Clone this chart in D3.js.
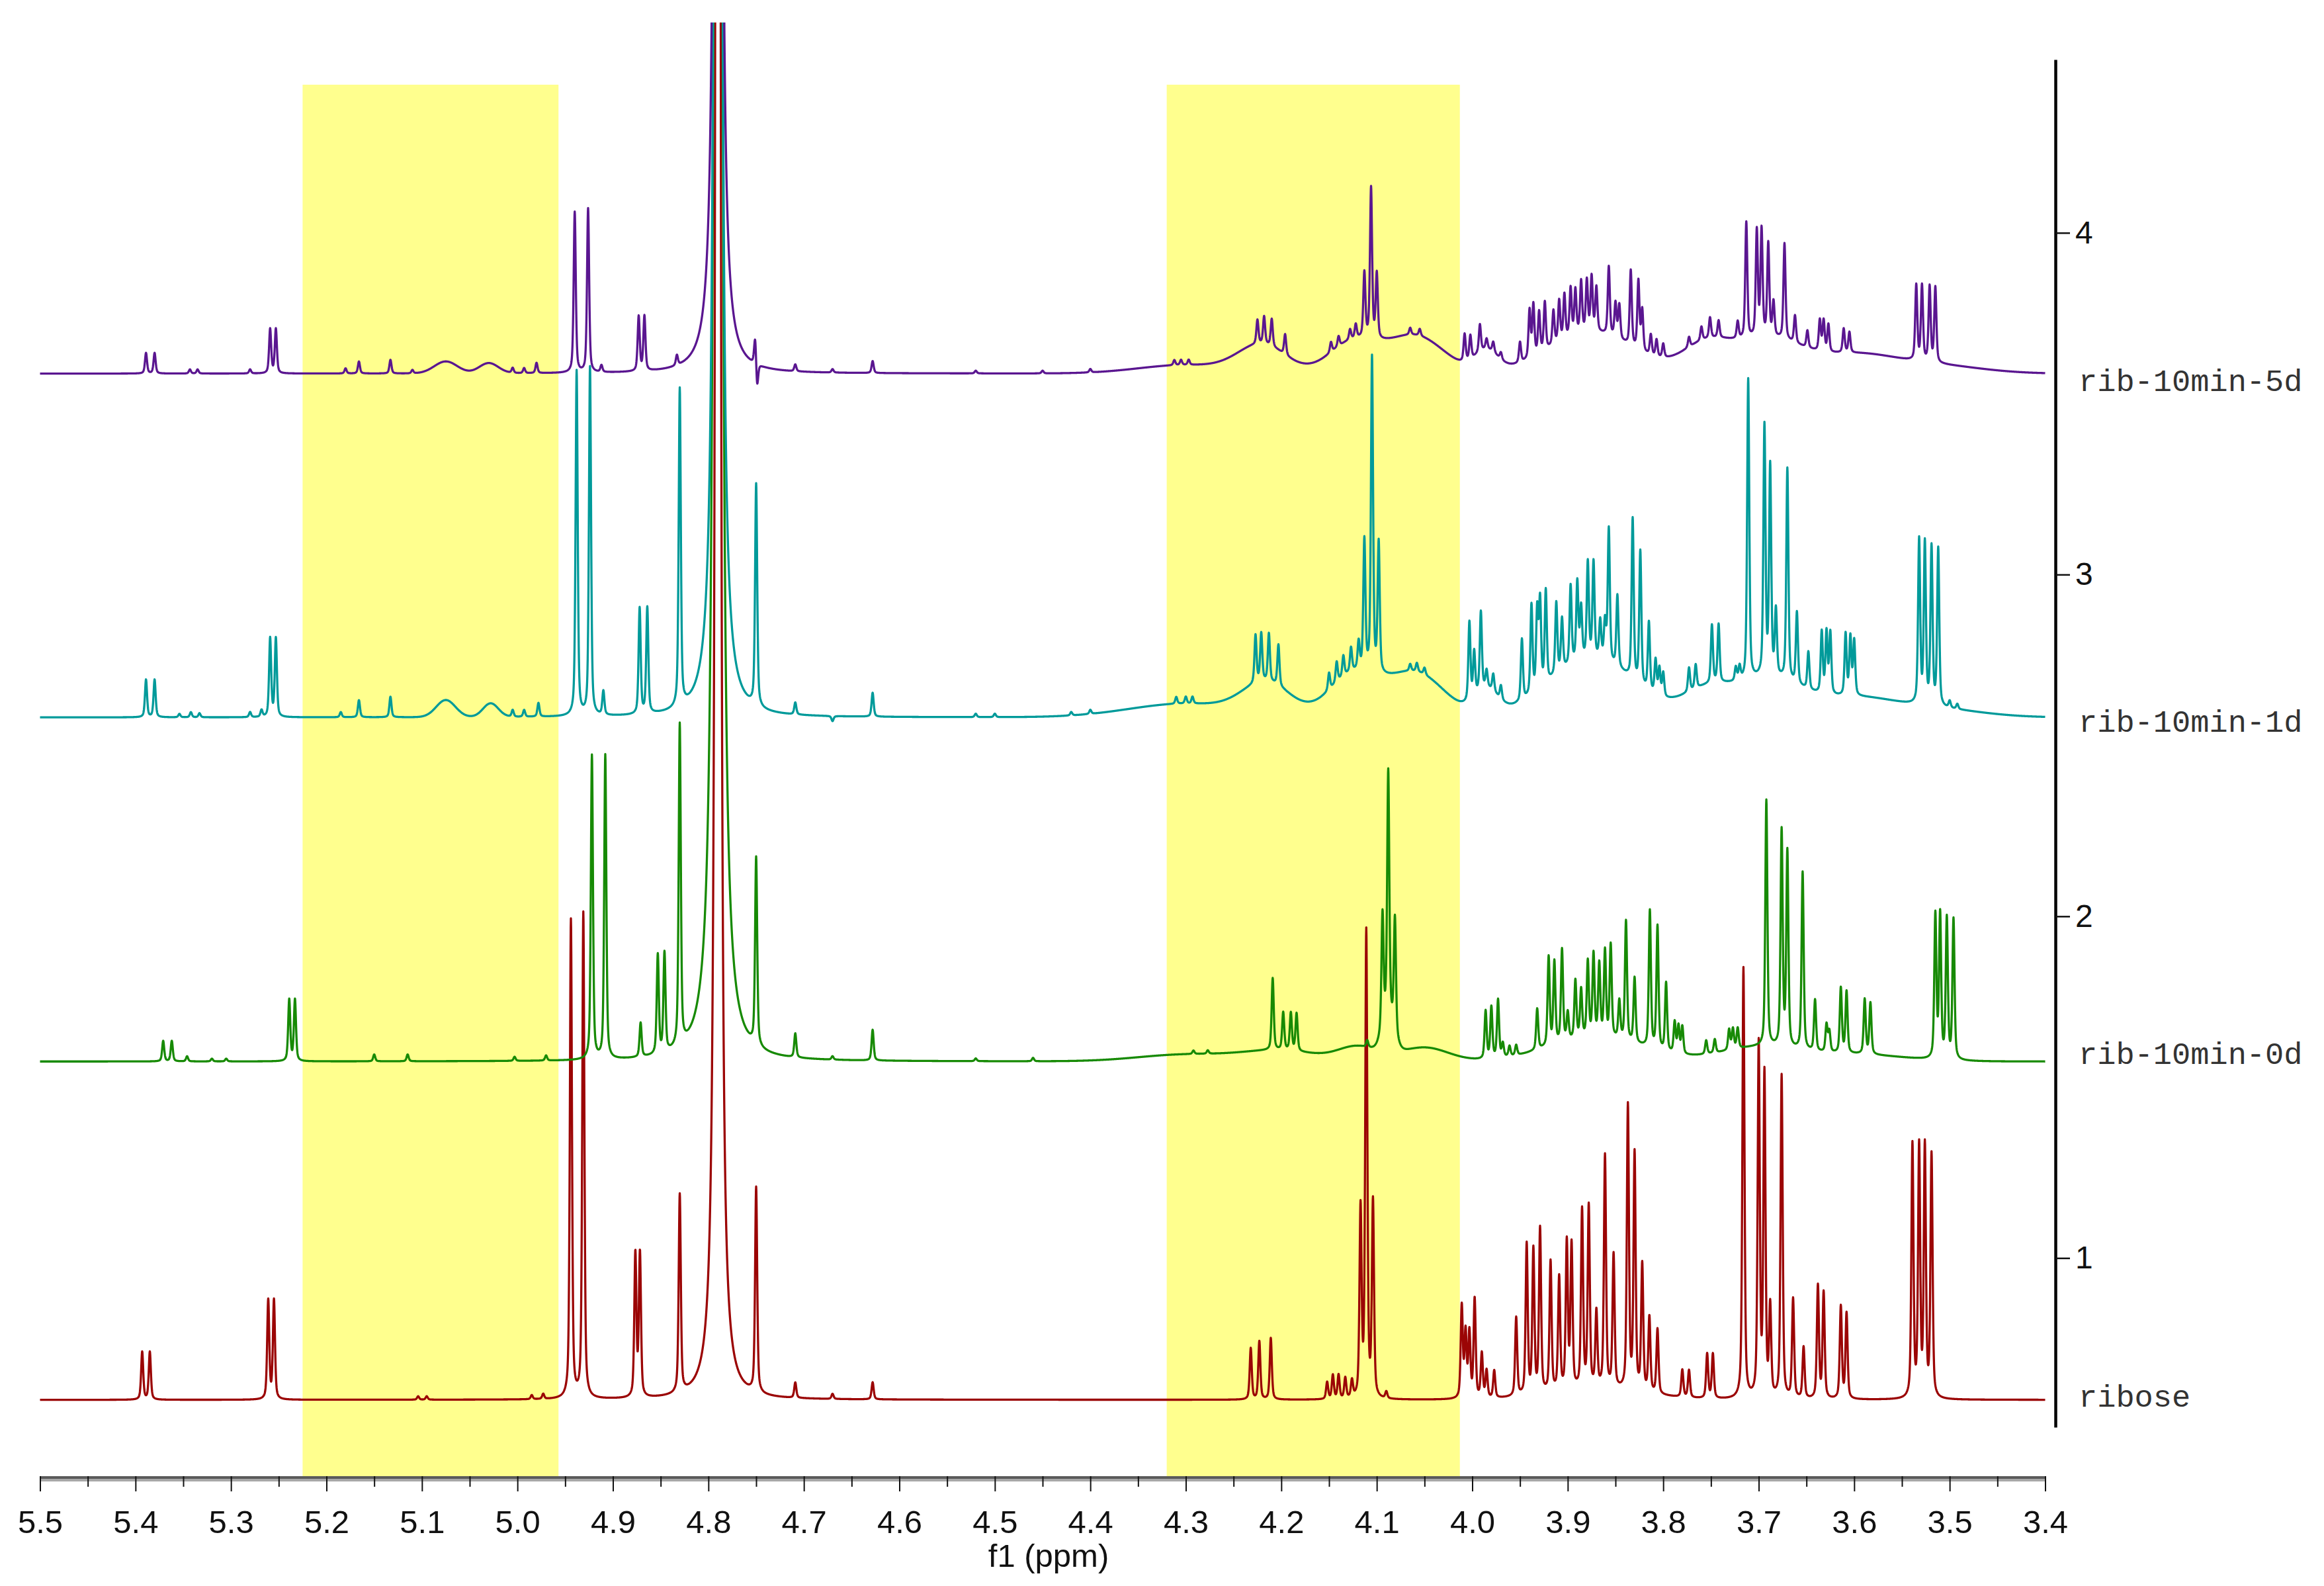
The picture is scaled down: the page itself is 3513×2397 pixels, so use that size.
<!DOCTYPE html>
<html>
<head>
<meta charset="utf-8">
<script src="https://cdn.jsdelivr.net/npm/d3@7"></script>
<style>
body { margin: 0; background: #fff; }
</style>
</head>
<body>
<div id="chart"></div>
<script>
const W = 3513
const H = 2397

// series, bottom to top
const seriesNames = ["ribose", "rib-10min-0d", "rib-10min-1d", "rib-10min-5d"]
const seriesColors = ["#9b0505", "#178a05", "#009a9a", "#5a1690"]
const offsets = [0.585, 1.575, 2.582, 3.588]
const labelY = [0.565, 1.568, 2.54, 3.537]

const xTickLabels = ["5.5", "5.4", "5.3", "5.2", "5.1", "5.0", "4.9", "4.8", "4.7", "4.6", "4.5", "4.4", "4.3", "4.2", "4.1", "4.0", "3.9", "3.8", "3.7", "3.6", "3.5", "3.4"]
const yTickLabels = [1, 2, 3, 4]
const highlights = [[5.225, 4.957], [4.32, 4.013]]

// water peak: [ppm, height, hwhm]
const water = [[4.790, 40, 0.00098], [4.790, 40, 0.00142], [4.790, 40, 0.00119], [4.790, 40, 0.00108]]

// peaks: [ppm, height]
const ribosePeaks = [
  [5.393, 0.14], [5.385, 0.14], [5.261, 0.29], [5.255, 0.29],
  [5.104, 0.01], [5.095, 0.01], [4.985, 0.012], [4.973, 0.015],
  [4.944, 1.40], [4.931, 1.42], [4.8765, 0.42], [4.8717, 0.42], [4.830, 0.58],
  [4.750, 0.60], [4.709, 0.045], [4.670, 0.015], [4.628, 0.05],
  [4.232, 0.15], [4.223, 0.17], [4.211, 0.18],
  [4.152, 0.05], [4.146, 0.07], [4.140, 0.07], [4.133, 0.06], [4.126, 0.05],
  [4.117, 0.55], [4.111, 1.36], [4.104, 0.57], [4.090, 0.02],
  [4.011, 0.27], [4.007, 0.19], [4.003, 0.19], [3.9975, 0.29], [3.990, 0.13], [3.985, 0.08], [3.977, 0.08],
  [3.954, 0.23], [3.943, 0.44], [3.936, 0.42], [3.929, 0.48],
  [3.918, 0.38], [3.909, 0.33], [3.901, 0.43], [3.896, 0.42],
  [3.885, 0.52], [3.878, 0.53], [3.870, 0.22], [3.861, 0.68], [3.852, 0.39],
  [3.837, 0.83], [3.830, 0.69], [3.822, 0.37], [3.8145, 0.22], [3.806, 0.19],
  [3.780, 0.08], [3.773, 0.08], [3.754, 0.13], [3.748, 0.13],
  [3.716, 1.26], [3.700, 1.03], [3.694, 0.94], [3.688, 0.26],
  [3.676, 0.945], [3.664, 0.29], [3.653, 0.15], [3.638, 0.33], [3.632, 0.31],
  [3.614, 0.27], [3.608, 0.25],
  [3.539, 0.74], [3.532, 0.73], [3.526, 0.73], [3.519, 0.71]
]
const greenPeaks = [
  [5.371, 0.06], [5.362, 0.06], [5.346, 0.015], [5.32, 0.008], [5.305, 0.008],
  [5.239, 0.18], [5.233, 0.18], [5.15, 0.02], [5.115, 0.02], [5.003, 0.012], [4.97, 0.015],
  [4.922, 0.89], [4.908, 0.89], [4.871, 0.10], [4.853, 0.29], [4.846, 0.29], [4.830, 0.94],
  [4.750, 0.55], [4.709, 0.07], [4.670, 0.01], [4.628, 0.09],
  [4.52, 0.008], [4.46, 0.01], [4.292, 0.01], [4.277, 0.01],
  [4.209, 0.21], [4.198, 0.11], [4.190, 0.11], [4.184, 0.11], [4.11, 0.02],
  [4.094, 0.34], [4.088, 0.72], [4.081, 0.34],
  [3.986, 0.14], [3.980, 0.15], [3.973, 0.17], [3.968, 0.04], [3.961, 0.03], [3.954, 0.03],
  [3.932, 0.12], [3.920, 0.26], [3.914, 0.24], [3.906, 0.27],
  [3.900, 0.08], [3.892, 0.17], [3.886, 0.14], [3.879, 0.22], [3.873, 0.24], [3.867, 0.21], [3.861, 0.25], [3.855, 0.27],
  [3.846, 0.11], [3.839, 0.35], [3.830, 0.19],
  [3.814, 0.40], [3.806, 0.36], [3.797, 0.20], [3.788, 0.09], [3.784, 0.08], [3.780, 0.08],
  [3.755, 0.04], [3.746, 0.04], [3.731, 0.06], [3.727, 0.06], [3.722, 0.06],
  [3.692, 0.72], [3.676, 0.63], [3.670, 0.57], [3.654, 0.52],
  [3.641, 0.15], [3.629, 0.08], [3.626, 0.06], [3.614, 0.19], [3.608, 0.18],
  [3.589, 0.16], [3.583, 0.15],
  [3.515, 0.42], [3.510, 0.42], [3.503, 0.41], [3.496, 0.41]
]
const tealPeaks = [
  [5.389, 0.11], [5.380, 0.11], [5.354, 0.01], [5.342, 0.015], [5.333, 0.012],
  [5.28, 0.015], [5.268, 0.02], [5.259, 0.23], [5.253, 0.23],
  [5.185, 0.015], [5.166, 0.05], [5.133, 0.06], [5.005, 0.02], [4.993, 0.02], [4.978, 0.04],
  [4.938, 1.01], [4.924, 1.02], [4.910, 0.07], [4.872, 0.31], [4.864, 0.31], [4.830, 0.93],
  [4.750, 0.65], [4.709, 0.035], [4.670, -0.015], [4.628, 0.07],
  [4.52, 0.01], [4.50, 0.01], [4.42, 0.01], [4.40, 0.012], [4.31, 0.02], [4.30, 0.02], [4.293, 0.02],
  [4.227, 0.14], [4.221, 0.14], [4.213, 0.14], [4.203, 0.12],
  [4.150, 0.05], [4.142, 0.06], [4.135, 0.06], [4.127, 0.07], [4.119, 0.08],
  [4.113, 0.38], [4.105, 0.92], [4.098, 0.38], [4.065, 0.02], [4.058, 0.025], [4.050, 0.02],
  [4.003, 0.23], [3.998, 0.13], [3.991, 0.23], [3.985, 0.05], [3.978, 0.05], [3.970, 0.04],
  [3.948, 0.18], [3.938, 0.26], [3.932, 0.23], [3.929, 0.25], [3.923, 0.27],
  [3.912, 0.21], [3.906, 0.15], [3.897, 0.23], [3.890, 0.23], [3.886, 0.15], [3.879, 0.28], [3.873, 0.28], [3.866, 0.11], [3.861, 0.11],
  [3.857, 0.39], [3.848, 0.21], [3.832, 0.47], [3.824, 0.39], [3.815, 0.20], [3.808, 0.10], [3.804, 0.08], [3.800, 0.07],
  [3.773, 0.07], [3.766, 0.07], [3.749, 0.17], [3.742, 0.17], [3.724, 0.04], [3.720, 0.04],
  [3.711, 0.88], [3.694, 0.73], [3.688, 0.61], [3.682, 0.19], [3.670, 0.62],
  [3.660, 0.21], [3.648, 0.11], [3.634, 0.18], [3.629, 0.18], [3.625, 0.18],
  [3.609, 0.18], [3.604, 0.17], [3.600, 0.16],
  [3.532, 0.48], [3.526, 0.47], [3.519, 0.46], [3.512, 0.46], [3.500, 0.02], [3.492, 0.015]
]
const purplePeaks = [
  [5.389, 0.06], [5.380, 0.06], [5.343, 0.012], [5.335, 0.012], [5.28, 0.012],
  [5.259, 0.13], [5.253, 0.13], [5.18, 0.015], [5.166, 0.035], [5.133, 0.04], [5.11, 0.01],
  [5.005, 0.015], [4.993, 0.015], [4.98, 0.03],
  [4.940, 0.47], [4.926, 0.48], [4.912, 0.02], [4.873, 0.16], [4.867, 0.16], [4.833, 0.03],
  [4.751, 0.085], [4.749, -0.075], [4.709, 0.02], [4.670, 0.01], [4.628, 0.035],
  [4.52, 0.008], [4.45, 0.008], [4.40, 0.01], [4.312, 0.015], [4.305, 0.015], [4.297, 0.015],
  [4.225, 0.07], [4.218, 0.08], [4.210, 0.08], [4.196, 0.06],
  [4.148, 0.03], [4.140, 0.03], [4.128, 0.03], [4.122, 0.04],
  [4.113, 0.19], [4.106, 0.44], [4.100, 0.19], [4.065, 0.02], [4.055, 0.02],
  [4.008, 0.08], [4.002, 0.07], [3.992, 0.08], [3.985, 0.03], [3.978, 0.03], [3.970, 0.02],
  [3.950, 0.06], [3.940, 0.14], [3.936, 0.15], [3.930, 0.12], [3.924, 0.14],
  [3.915, 0.10], [3.909, 0.12], [3.9035, 0.13], [3.897, 0.14], [3.892, 0.13], [3.886, 0.15], [3.880, 0.15], [3.875, 0.16], [3.870, 0.13],
  [3.857, 0.20], [3.850, 0.10], [3.846, 0.10], [3.834, 0.22], [3.826, 0.20], [3.822, 0.12],
  [3.813, 0.06], [3.807, 0.05], [3.800, 0.04],
  [3.773, 0.03], [3.760, 0.04], [3.751, 0.06], [3.742, 0.05],
  [3.722, 0.05], [3.713, 0.34], [3.702, 0.31], [3.697, 0.31], [3.690, 0.27], [3.6845, 0.10],
  [3.673, 0.28], [3.662, 0.08], [3.649, 0.05], [3.636, 0.09], [3.632, 0.09], [3.627, 0.08],
  [3.611, 0.07], [3.605, 0.06],
  [3.535, 0.22], [3.529, 0.22], [3.521, 0.22], [3.515, 0.22]
]

// broad humps under the multiplets: [ppm, height, sigma]
const riboseHumps = [[3.87, 0.03, 0.05]]
const greenHumps = [[4.3, 0.02, 0.05], [4.2, 0.03, 0.04], [4.12, 0.04, 0.02], [4.088, 0.10, 0.006], [4.05, 0.04, 0.025], [3.87, 0.07, 0.05], [3.7, 0.04, 0.04], [3.6, 0.02, 0.05]]
const tealHumps = [[5.075, 0.05, 0.01], [5.028, 0.04, 0.008], [4.3, 0.04, 0.06], [4.215, 0.09, 0.025], [4.125, 0.12, 0.025], [4.06, 0.13, 0.03], [3.985, 0.07, 0.012], [3.875, 0.17, 0.045], [3.755, 0.07, 0.025], [3.69, 0.11, 0.035], [3.6, 0.05, 0.04], [3.52, 0.025, 0.05]]
const purpleHumps = [[5.075, 0.035, 0.012], [5.03, 0.03, 0.01], [4.3, 0.025, 0.05], [4.22, 0.08, 0.025], [4.125, 0.09, 0.025], [4.06, 0.11, 0.03], [3.985, 0.06, 0.012], [3.875, 0.12, 0.045], [3.755, 0.08, 0.025], [3.69, 0.10, 0.035], [3.6, 0.05, 0.04], [3.52, 0.025, 0.05]]

const allPeaks = [ribosePeaks, greenPeaks, tealPeaks, purplePeaks]
const allHumps = [riboseHumps, greenHumps, tealHumps, purpleHumps]

const lineWidth = 0.0013 // hwhm in ppm
const step = 0.0002

const x = d3.scaleLinear().domain([5.5, 3.4]).range([60.5, 3091.5])
const y = d3.scaleLinear().domain([0.505, 4.507]).range([2157, 90])
const axisY = 2231

function intensity(ppm, i) {
  let v = offsets[i]
  allPeaks[i].forEach((p) => {
    const r = (ppm - p[0]) / lineWidth
    v += p[1] * (0.5 / (1 + r * r) + 0.5 * Math.exp(-0.6931 * r * r))
  })
  allHumps[i].forEach((hm) => {
    const r = (ppm - hm[0]) / hm[2]
    v += hm[1] * Math.exp(-0.5 * r * r)
  })
  const wr = (ppm - water[i][0]) / water[i][2]
  v += water[i][1] / (1 + wr * wr)
  return v
}

const svg = d3.select("#chart").append("svg")
  .attr("width", W)
  .attr("height", H)
  .style("background", "#fff")

svg.append("defs").append("clipPath").attr("id", "plotclip")
  .append("rect")
  .attr("x", x(5.5) - 2)
  .attr("y", 34)
  .attr("width", x(3.4) - x(5.5) + 4)
  .attr("height", axisY - 34)

svg.selectAll(".hl")
  .data(highlights)
  .enter().append("rect")
  .attr("class", "hl")
  .attr("x", (d) => x(d[0]))
  .attr("y", 128)
  .attr("width", (d) => x(d[1]) - x(d[0]))
  .attr("height", axisY - 128)
  .style("fill", "#ffff8e")

const ppmGrid = d3.range(0, Math.round((5.5 - 3.4) / step) + 1).map((k) => 5.5 - k * step)
const line = d3.line()
  .x((d) => x(d[0]))
  .y((d) => y(d[1]))

const plot = svg.append("g").attr("clip-path", "url(#plotclip)")
seriesNames.forEach((name, i) => {
  const pts = ppmGrid.map((p) => [p, intensity(p, i)])
  plot.append("path")
    .datum(pts)
    .attr("d", line)
    .style("fill", "none")
    .style("stroke", seriesColors[i])
    .style("stroke-width", 3.3)
    .style("stroke-linejoin", "round")
})

// x axis
const majorTicks = xTickLabels.map(Number)
const minorTicks = majorTicks.slice(0, -1).map((t) => +(t - 0.05).toFixed(2))

svg.append("rect")
  .attr("x", x(5.5))
  .attr("y", axisY)
  .attr("width", x(3.4) - x(5.5))
  .attr("height", 4)
  .style("fill", "#5a5a5a")
svg.append("rect")
  .attr("x", x(5.5))
  .attr("y", axisY + 4)
  .attr("width", x(3.4) - x(5.5))
  .attr("height", 4)
  .style("fill", "#a8a8a8")

const xMinor = svg.append("g")
  .attr("transform", `translate(0,${axisY})`)
  .call(d3.axisBottom(x).tickValues(minorTicks).tickSize(16).tickFormat(""))
xMinor.select(".domain").remove()

const xMajor = svg.append("g")
  .attr("transform", `translate(0,${axisY})`)
  .call(d3.axisBottom(x).tickValues(majorTicks).tickSize(23).tickPadding(28).tickFormat((d, k) => xTickLabels[k]))
xMajor.select(".domain").remove()

svg.selectAll(".tick line").style("stroke", "#111").style("stroke-width", 2)
xMajor.selectAll("text")
  .style("font-family", "'Liberation Sans', Arial, sans-serif")
  .style("font-size", "49px")
  .style("fill", "#111")

svg.append("text")
  .attr("x", 1585)
  .attr("y", 2368)
  .attr("text-anchor", "middle")
  .style("font-family", "'Liberation Sans', Arial, sans-serif")
  .style("font-size", "49px")
  .style("fill", "#111")
  .text("f1 (ppm)")

// right axis
const yAxis = svg.append("g")
  .attr("transform", "translate(3107,0)")
  .call(d3.axisRight(y).tickValues(yTickLabels).tickSize(22).tickSizeOuter(0).tickPadding(8).tickFormat(d3.format("d")))
yAxis.select(".domain").style("stroke", "#000").style("stroke-width", 4.5)
yAxis.selectAll(".tick line").style("stroke", "#111").style("stroke-width", 2.5)
yAxis.selectAll("text")
  .style("font-family", "'Liberation Sans', Arial, sans-serif")
  .style("font-size", "48px")
  .style("fill", "#111")

svg.selectAll(".slabel")
  .data(seriesNames)
  .enter().append("text")
  .attr("class", "slabel")
  .attr("x", 3142)
  .attr("y", (d, i) => y(labelY[i]))
  .style("font-family", "'Liberation Mono', 'DejaVu Sans Mono', monospace")
  .style("font-size", "47px")
  .style("fill", "#333")
  .text((d) => d)
</script>
</body>
</html>
